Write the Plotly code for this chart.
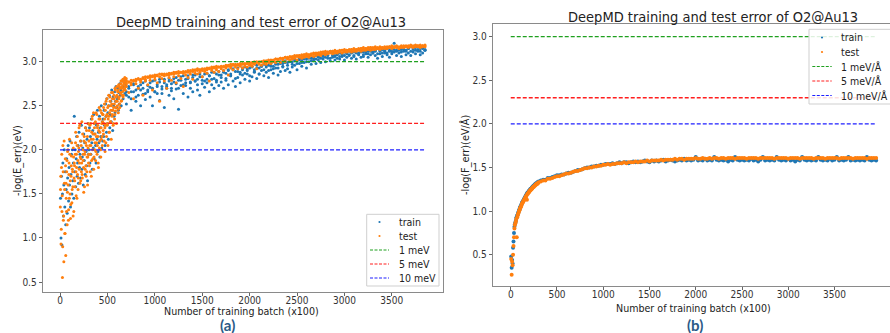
import plotly.graph_objects as go

W, H = 890, 333
BLUE = "#1f77b4"
ORANGE = "#ff7f0e"
FONT = "DejaVu Sans Condensed, Liberation Sans Narrow, DejaVu Sans, sans-serif"

# ---------------- panel (a): energy error, -log10(E_err) ----------------
batch_a_early = list(range(5, 700, 5))          # training batch (x100)
batch_a_early2 = list(range(3, 700, 5))
batch_a_late = list(range(700, 3851, 25))

train_a_early = [
    1.45, 1.00, 1.70, 0.92, 1.50, 1.85, 1.25, 1.60, 2.00, 1.35, 1.75, 1.15,
    1.55, 1.90, 1.28, 1.68, 2.05, 1.42, 1.80, 1.60, 2.10, 1.35, 1.72, 1.95, 1.50, 2.00, 1.65, 1.85, 1.45, 2.38,
    1.75, 2.00, 1.58, 1.90, 2.15, 1.70, 1.85, 2.05, 1.62, 2.20, 1.80, 1.95, 1.68, 2.10, 2.28,
    1.78, 1.92, 2.02, 1.60, 2.18, 1.88, 2.08, 1.72, 2.25, 1.98, 1.82, 2.12, 1.65, 2.30, 1.95,
    2.00, 2.25, 1.85, 2.15, 1.95, 2.35, 2.08, 1.78, 2.22, 2.02, 2.40, 1.90, 2.18, 2.30, 2.05,
    1.85, 2.28, 2.12, 2.45, 1.98, 2.20, 2.08, 2.38, 1.92, 2.25, 2.15, 2.50, 2.02, 2.32, 2.10,
    2.35, 2.15, 2.45, 2.28, 2.05, 2.52, 2.38, 2.20, 2.58, 2.30, 2.42, 2.12, 2.50, 2.62, 2.25,
    2.40, 2.55, 2.32, 2.68, 2.45, 2.22, 2.60, 2.50, 2.38, 2.66, 2.42, 2.55, 2.72, 2.48, 2.60,
    2.58, 2.70, 2.45, 2.65, 2.52, 2.75, 2.62, 2.68, 2.50, 2.78, 2.66, 2.72, 2.58, 2.80, 2.70,
    2.76, 2.64, 2.80, 2.74,
]
test_a_early = [
    1.55, 0.93, 1.80, 1.30, 0.55, 2.05, 1.20, 0.73, 1.62, 1.05, 1.90, 0.80,
    1.45, 1.75, 1.15, 1.98, 1.60, 1.32, 1.85, 2.12, 1.50, 1.22, 1.70, 1.93, 1.40, 1.78, 1.58, 2.02, 1.30, 1.85,
    1.65, 1.95, 2.20, 1.48, 1.80, 2.05, 1.72, 1.55, 1.98, 2.25, 1.85, 1.62, 2.10, 1.90, 1.75,
    2.32, 1.68, 2.00, 1.88, 1.52, 2.15, 1.95, 1.78, 2.08, 1.70, 2.22, 1.92, 1.60, 2.02, 1.85,
    2.10, 1.82, 2.28, 1.95, 2.05, 1.70, 2.20, 2.38, 1.90, 2.12, 1.78, 2.30, 2.00, 2.18, 1.88,
    2.42, 2.08, 1.95, 2.25, 2.15, 1.80, 2.35, 2.02, 2.20, 2.45, 1.92, 2.12, 2.30, 2.05, 2.40,
    2.22, 2.48, 2.10, 2.35, 1.98, 2.28, 2.55, 2.15, 2.40, 2.30, 2.05, 2.50, 2.38, 2.20, 2.60,
    2.32, 2.45, 2.12, 2.52, 2.40, 2.65, 2.28, 2.48, 2.58, 2.35, 2.70, 2.44, 2.55, 2.30, 2.62,
    2.50, 2.68, 2.42, 2.58, 2.72, 2.48, 2.65, 2.75, 2.55, 2.70, 2.62, 2.78, 2.60, 2.74, 2.68,
    2.80, 2.72, 2.76, 2.79,
]
test_a_early2 = [
    1.35, 1.70, 1.10, 1.95, 1.48, 0.90, 1.75, 1.25, 2.10, 1.55, 1.05, 1.82,
    1.62, 1.30, 1.88, 1.52, 2.00, 1.20, 1.72, 1.45, 1.95, 1.65, 1.38, 1.82, 2.08, 1.55, 1.75, 1.25, 1.92, 1.68,
    1.82, 1.58, 2.08, 1.75, 1.95, 1.45, 2.15, 1.88, 1.68, 2.02, 1.78, 2.28, 1.92, 1.65, 2.05,
    1.85, 1.72, 2.18, 1.95, 1.80, 2.10, 1.58, 1.98, 2.25, 1.82, 2.05, 1.75, 2.15, 1.92, 2.30,
    1.95, 2.22, 2.05, 1.75, 2.30, 2.12, 1.88, 2.35, 2.00, 2.18, 2.42, 1.92, 2.25, 2.08, 2.32,
    1.98, 2.15, 2.40, 2.05, 2.28, 1.85, 2.22, 2.48, 2.10, 2.35, 2.00, 2.25, 2.42, 2.15, 2.32,
    2.40, 2.18, 2.30, 2.52, 2.25, 2.45, 2.08, 2.38, 2.58, 2.28, 2.48, 2.35, 2.62, 2.20, 2.42,
    2.55, 2.32, 2.50, 2.65, 2.38, 2.58, 2.45, 2.30, 2.62, 2.52, 2.40, 2.68, 2.48, 2.60, 2.72,
    2.55, 2.66, 2.46, 2.74, 2.60, 2.52, 2.70, 2.64, 2.78, 2.56, 2.72, 2.66, 2.80, 2.62, 2.76,
    2.70, 2.82, 2.68, 2.78, 2.81,
]
test_a_late_upper = [
    2.78, 2.77, 2.79, 2.78, 2.80, 2.81, 2.80, 2.82, 2.83, 2.82,
    2.84, 2.83, 2.85, 2.84, 2.86, 2.85, 2.86, 2.85, 2.87, 2.86,
    2.88, 2.87, 2.89, 2.88, 2.89, 2.88, 2.90, 2.89, 2.91, 2.90,
    2.92, 2.91, 2.92, 2.91, 2.93, 2.92, 2.94, 2.93, 2.95, 2.94,
    2.95, 2.94, 2.96, 2.95, 2.97, 2.96, 2.97, 2.96, 2.98, 2.97,
    2.98, 2.98, 2.99, 2.98, 3.00, 2.99, 3.00, 3.00, 3.01, 3.00,
    3.02, 3.01, 3.02, 3.03, 3.03, 3.04, 3.04, 3.05, 3.05, 3.06,
    3.06, 3.07, 3.07, 3.07, 3.08, 3.08, 3.09, 3.08, 3.09, 3.10,
    3.10, 3.10, 3.11, 3.11, 3.12, 3.11, 3.12, 3.12, 3.13, 3.12,
    3.13, 3.13, 3.14, 3.13, 3.14, 3.14, 3.15, 3.14, 3.15, 3.15,
    3.16, 3.15, 3.16, 3.16, 3.16, 3.17, 3.16, 3.17, 3.16, 3.17,
    3.17, 3.17, 3.18, 3.17, 3.18, 3.17, 3.18, 3.18, 3.17, 3.18,
    3.19, 3.18, 3.19, 3.18, 3.19, 3.18, 3.19,
]
test_a_late_mid = [
    2.75, 2.77, 2.76, 2.79, 2.78, 2.80, 2.79, 2.81, 2.80, 2.83,
    2.82, 2.84, 2.83, 2.85, 2.83, 2.86, 2.84, 2.86, 2.85, 2.87,
    2.86, 2.88, 2.87, 2.88, 2.87, 2.89, 2.88, 2.90, 2.89, 2.91,
    2.90, 2.91, 2.90, 2.92, 2.91, 2.93, 2.92, 2.94, 2.93, 2.94,
    2.94, 2.95, 2.94, 2.96, 2.95, 2.97, 2.96, 2.97, 2.96, 2.98,
    2.97, 2.98, 2.97, 2.99, 2.98, 3.00, 2.99, 3.00, 3.00, 3.01,
    3.00, 3.02, 3.01, 3.03, 3.02, 3.04, 3.03, 3.05, 3.04, 3.05,
    3.05, 3.06, 3.06, 3.07, 3.06, 3.08, 3.07, 3.08, 3.08, 3.09,
    3.09, 3.10, 3.09, 3.11, 3.10, 3.11, 3.11, 3.12, 3.11, 3.12,
    3.12, 3.13, 3.12, 3.13, 3.13, 3.14, 3.13, 3.14, 3.14, 3.15,
    3.14, 3.15, 3.15, 3.16, 3.15, 3.16, 3.15, 3.16, 3.16, 3.16,
    3.16, 3.17, 3.16, 3.17, 3.17, 3.16, 3.17, 3.17, 3.18, 3.17,
    3.18, 3.17, 3.18, 3.18, 3.17, 3.18, 3.18,
]
test_a_late_lower = [
    2.72, 2.65, 2.74, 2.58, 2.75, 2.70, 2.77, 2.62, 2.78, 2.74,
    2.79, 2.68, 2.80, 2.76, 2.55, 2.81, 2.78, 2.70, 2.82, 2.79,
    2.83, 2.76, 2.84, 2.81, 2.72, 2.85, 2.82, 2.86, 2.80, 2.87,
    2.86, 2.88, 2.83, 2.89, 2.87, 2.78, 2.90, 2.88, 2.91, 2.89,
    2.92, 2.90, 2.93, 2.85, 2.93, 2.91, 2.94, 2.92, 2.95, 2.93,
    2.95, 2.94, 2.96, 2.95, 2.97, 2.92, 2.97, 2.96, 2.98, 2.97,
    2.99, 2.98, 3.00, 2.99, 3.01, 2.99, 3.02, 3.00, 3.03, 3.02,
    3.03, 3.04, 3.02, 3.05, 3.04, 3.05, 3.06, 3.05, 3.07, 3.06,
    3.07, 3.08, 3.07, 3.09, 3.08, 3.09, 3.10, 3.09, 3.10, 3.10,
    3.11, 3.10, 3.11, 3.11, 3.12, 3.11, 3.12, 3.12, 3.13, 3.12,
    3.13, 3.13, 3.14, 3.13, 3.14, 3.14, 3.15, 3.14, 3.15, 3.15,
    3.15, 3.16, 3.15, 3.16, 3.16, 3.15, 3.16, 3.16, 3.17, 3.16,
    3.17, 3.16, 3.17, 3.17, 3.16, 3.17, 3.17,
]
train_a_late_upper = [
    2.66, 2.72, 2.58, 2.75, 2.68, 2.62, 2.74, 2.70, 2.78, 2.66,
    2.76, 2.70, 2.79, 2.64, 2.77, 2.72, 2.80, 2.74, 2.78, 2.70,
    2.81, 2.75, 2.79, 2.83, 2.74, 2.80, 2.84, 2.77, 2.82, 2.85,
    2.80, 2.86, 2.83, 2.78, 2.87, 2.84, 2.88, 2.81, 2.86, 2.89,
    2.85, 2.90, 2.87, 2.91, 2.86, 2.92, 2.89, 2.93, 2.88, 2.91,
    2.94, 2.90, 2.93, 2.95, 2.91, 2.96, 2.93, 2.95, 2.97, 2.94,
    2.96, 2.98, 2.95, 2.99, 2.97, 3.00, 2.98, 3.01, 2.99, 3.02,
    3.00, 3.03, 3.01, 3.04, 3.02, 3.05, 3.03, 3.06, 3.04, 3.05,
    3.07, 3.05, 3.08, 3.06, 3.09, 3.07, 3.12, 3.10, 3.07, 3.09,
    3.10, 3.08, 3.11, 3.09, 3.12, 3.10, 3.11, 3.13, 3.10, 3.12,
    3.11, 3.13, 3.12, 3.14, 3.11, 3.13, 3.15, 3.12, 3.14, 3.13,
    3.15, 3.12, 3.14, 3.21, 3.13, 3.15, 3.14, 3.16, 3.13, 3.15,
    3.17, 3.14, 3.16, 3.13, 3.15, 3.17, 3.14,
]
train_a_late_mid = [
    2.62, 2.70, 2.66, 2.74, 2.60, 2.72, 2.68, 2.76, 2.64, 2.73,
    2.71, 2.78, 2.66, 2.74, 2.80, 2.69, 2.76, 2.72, 2.81, 2.67,
    2.77, 2.82, 2.70, 2.79, 2.84, 2.73, 2.81, 2.76, 2.85, 2.78,
    2.74, 2.83, 2.79, 2.86, 2.76, 2.84, 2.80, 2.88, 2.77, 2.85,
    2.82, 2.88, 2.79, 2.90, 2.84, 2.91, 2.81, 2.89, 2.86, 2.93,
    2.87, 2.92, 2.84, 2.94, 2.89, 2.93, 2.86, 2.95, 2.91, 2.96,
    2.90, 2.95, 2.92, 2.97, 2.93, 2.98, 2.94, 2.99, 2.96, 3.00,
    2.97, 3.01, 2.98, 3.02, 2.99, 3.03, 3.00, 3.04, 3.01, 3.03,
    3.03, 3.06, 3.04, 3.07, 3.05, 3.08, 3.04, 3.07, 3.06, 3.08,
    3.06, 3.09, 3.07, 3.10, 3.08, 3.11, 3.07, 3.10, 3.09, 3.11,
    3.08, 3.11, 3.09, 3.12, 3.10, 3.12, 3.09, 3.13, 3.10, 3.12,
    3.10, 3.13, 3.11, 3.14, 3.12, 3.13, 3.11, 3.14, 3.12, 3.15,
    3.12, 3.15, 3.13, 3.14, 3.12, 3.15, 3.13,
]
train_a_late_lower = [
    2.52, 2.60, 2.45, 2.66, 2.55, 2.70, 2.50, 2.63, 2.57, 2.68,
    2.60, 2.50, 2.66, 2.72, 2.56, 2.64, 2.48, 2.70, 2.62, 2.75,
    2.58, 2.69, 2.46, 2.73, 2.64, 2.76, 2.60, 2.70, 2.66, 2.78,
    2.68, 2.62, 2.75, 2.71, 2.80, 2.66, 2.74, 2.70, 2.79, 2.73,
    2.77, 2.70, 2.81, 2.74, 2.84, 2.78, 2.72, 2.82, 2.76, 2.85,
    2.80, 2.86, 2.78, 2.83, 2.88, 2.81, 2.86, 2.90, 2.84, 2.88,
    2.82, 2.91, 2.87, 2.93, 2.85, 2.89, 2.95, 2.90, 2.92, 2.88,
    2.94, 2.96, 2.91, 2.98, 2.95, 2.99, 2.93, 3.00, 2.97, 3.01,
    2.98, 3.02, 2.99, 3.03, 3.00, 3.04, 3.01, 3.05, 3.02, 3.04,
    3.03, 3.06, 3.02, 3.05, 3.07, 3.04, 3.06, 3.03, 3.08, 3.05,
    3.06, 3.09, 3.05, 3.08, 3.10, 3.07, 3.04, 3.09, 3.06, 3.10,
    3.08, 3.05, 3.09, 3.11, 3.07, 3.10, 3.06, 3.12, 3.08, 3.10,
    3.07, 3.11, 3.09, 3.12, 3.08, 3.10, 3.13,
]

# ---------------- panel (b): force error, -log10(F_err) ----------------
batch_b_early = list(range(5, 300, 5))
batch_b_late = list(range(300, 3951, 25))

train_b_early = [
    0.48, 0.35, 0.44, 0.40, 0.58, 0.65, 0.75, 0.82, 0.85, 0.87,
    0.89, 0.92, 0.93, 0.95, 0.96, 0.98, 0.99, 1.01, 1.02, 1.04,
    1.05, 1.06, 1.07, 1.09, 1.10, 1.11, 1.12, 1.13, 1.14, 1.15,
    1.16, 1.17, 1.18, 1.19, 1.20, 1.21, 1.21, 1.22, 1.23, 1.23,
    1.24, 1.25, 1.25, 1.26, 1.26, 1.27, 1.28, 1.28, 1.29, 1.29,
    1.30, 1.30, 1.31, 1.31, 1.32, 1.32, 1.32, 1.33, 1.33,
]
test_b_early = [
    0.45, 0.27, 0.42, 0.38, 0.50, 0.60, 0.70, 0.80, 0.84, 0.86,
    0.88, 0.91, 0.70, 0.93, 0.95, 0.97, 0.98, 1.00, 1.01, 1.03,
    1.04, 1.05, 1.06, 1.08, 1.09, 1.10, 1.11, 1.12, 1.13, 1.14,
    1.15, 1.16, 1.17, 1.18, 1.13, 1.20, 1.20, 1.21, 1.22, 1.22,
    1.23, 1.24, 1.24, 1.25, 1.25, 1.26, 1.27, 1.27, 1.28, 1.28,
    1.29, 1.29, 1.30, 1.30, 1.31, 1.31, 1.31, 1.32, 1.32,
]
train_b_late = [
    1.34, 1.35, 1.36, 1.36, 1.38, 1.38, 1.39, 1.40, 1.41, 1.41,
    1.42, 1.42, 1.43, 1.44, 1.44, 1.45, 1.46, 1.47, 1.47, 1.48,
    1.49, 1.50, 1.50, 1.51, 1.51, 1.52, 1.52, 1.53, 1.53, 1.54,
    1.54, 1.54, 1.55, 1.54, 1.55, 1.56, 1.55, 1.56, 1.56, 1.55,
    1.56, 1.57, 1.56, 1.57, 1.56, 1.57, 1.58, 1.57, 1.56, 1.58,
    1.57, 1.58, 1.57, 1.58, 1.59, 1.57, 1.58, 1.59, 1.58, 1.57,
    1.58, 1.59, 1.58, 1.60, 1.58, 1.59, 1.58, 1.59, 1.62, 1.58,
    1.59, 1.58, 1.60, 1.58, 1.59, 1.58, 1.62, 1.59, 1.58, 1.59,
    1.58, 1.59, 1.57, 1.59, 1.58, 1.62, 1.59, 1.58, 1.59, 1.58,
    1.59, 1.58, 1.60, 1.58, 1.59, 1.57, 1.59, 1.62, 1.58, 1.59,
    1.58, 1.59, 1.58, 1.62, 1.59, 1.58, 1.59, 1.58, 1.60, 1.58,
    1.59, 1.57, 1.59, 1.58, 1.62, 1.59, 1.58, 1.59, 1.58, 1.59,
    1.58, 1.62, 1.59, 1.58, 1.59, 1.58, 1.60, 1.58, 1.59, 1.62,
    1.58, 1.59, 1.58, 1.59, 1.62, 1.58, 1.59, 1.58, 1.59, 1.58,
    1.59, 1.58, 1.62, 1.59, 1.58, 1.59, 1.58,
]
test_b_late = [
    1.33, 1.34, 1.35, 1.35, 1.37, 1.37, 1.38, 1.39, 1.40, 1.40,
    1.41, 1.42, 1.43, 1.43, 1.44, 1.45, 1.46, 1.46, 1.47, 1.48,
    1.49, 1.49, 1.50, 1.50, 1.51, 1.51, 1.52, 1.52, 1.53, 1.53,
    1.54, 1.53, 1.54, 1.54, 1.55, 1.55, 1.55, 1.56, 1.55, 1.56,
    1.56, 1.56, 1.57, 1.56, 1.57, 1.57, 1.57, 1.58, 1.57, 1.58,
    1.58, 1.58, 1.58, 1.59, 1.58, 1.59, 1.59, 1.59, 1.59, 1.60,
    1.59, 1.60, 1.60, 1.59, 1.60, 1.60, 1.60, 1.60, 1.61, 1.60,
    1.60, 1.61, 1.60, 1.60, 1.61, 1.60, 1.61, 1.61, 1.60, 1.61,
    1.61, 1.60, 1.61, 1.61, 1.61, 1.60, 1.61, 1.61, 1.61, 1.61,
    1.60, 1.61, 1.61, 1.61, 1.61, 1.60, 1.61, 1.61, 1.61, 1.61,
    1.61, 1.61, 1.60, 1.61, 1.61, 1.61, 1.61, 1.61, 1.60, 1.61,
    1.61, 1.61, 1.61, 1.60, 1.61, 1.61, 1.61, 1.61, 1.61, 1.60,
    1.61, 1.61, 1.61, 1.61, 1.60, 1.61, 1.61, 1.61, 1.61, 1.61,
    1.60, 1.61, 1.61, 1.61, 1.61, 1.61, 1.60, 1.61, 1.61, 1.61,
    1.61, 1.61, 1.60, 1.61, 1.61, 1.61, 1.61,
]

# reference accuracy levels: -log10(1 meV), -log10(5 meV), -log10(10 meV)
ref_levels = [3.0, 2.3, 2.0]
ref_colors = ["#1fa01f", "#ff1f1f", "#1f1fff"]
energy_names = ["1 meV", "5 meV", "10 meV"]
force_names = ["1 meV/Å", "5 meV/Å", "10 meV/Å"]

xticks = [0, 500, 1000, 1500, 2000, 2500, 3000, 3500]
yticks = [0.5, 1.0, 1.5, 2.0, 2.5, 3.0]
title_text = "DeepMD training and test error of O2@Au13"
xlabel = "Number of training batch (x100)"

assert len(train_a_early) == len(batch_a_early) == len(test_a_early)
assert len(test_a_early2) == len(batch_a_early2), len(test_a_early2)
for s in (test_a_late_upper, test_a_late_mid, test_a_late_lower,
          train_a_late_upper, train_a_late_mid, train_a_late_lower):
    assert len(s) == len(batch_a_late), len(s)
assert len(train_b_early) == len(test_b_early) == len(batch_b_early)
assert len(train_b_late) == len(test_b_late) == len(batch_b_late)


def px(x):
    return x / W


def py(y):
    return 1 - y / H


fig = go.Figure()
MS = 3

# panel (a)
fig.add_trace(go.Scatter(
    x=batch_a_early + batch_a_late * 3,
    y=train_a_early + train_a_late_lower + train_a_late_mid + train_a_late_upper,
    mode="markers", marker=dict(size=MS, color=BLUE, line=dict(width=0)),
    name="train", xaxis="x", yaxis="y", showlegend=False))
fig.add_trace(go.Scatter(
    x=batch_a_early + batch_a_early2 + batch_a_late * 3,
    y=test_a_early + test_a_early2 + test_a_late_lower + test_a_late_mid + test_a_late_upper,
    mode="markers", marker=dict(size=MS, color=ORANGE, line=dict(width=0)),
    name="test", xaxis="x", yaxis="y", showlegend=False))
xmax_a = max(batch_a_late)
for lvl, col, nm in zip(ref_levels, ref_colors, energy_names):
    fig.add_trace(go.Scatter(x=[0, xmax_a], y=[lvl, lvl], mode="lines", name=nm,
                             line=dict(color=col, width=1.3, dash="4px,2px"),
                             xaxis="x", yaxis="y", showlegend=False))

# panel (b)
fig.add_trace(go.Scatter(
    x=batch_b_early + batch_b_late, y=train_b_early + train_b_late,
    mode="markers", marker=dict(size=4, color=BLUE, line=dict(width=0)),
    name="train", xaxis="x2", yaxis="y2", showlegend=False))
fig.add_trace(go.Scatter(
    x=batch_b_early + batch_b_late, y=test_b_early + test_b_late,
    mode="markers", marker=dict(size=4, color=ORANGE, line=dict(width=0)),
    name="test", xaxis="x2", yaxis="y2", showlegend=False))
xmax_b = max(batch_b_late)
for lvl, col, nm in zip(ref_levels, ref_colors, force_names):
    fig.add_trace(go.Scatter(x=[0, xmax_b], y=[lvl, lvl], mode="lines", name=nm,
                             line=dict(color=col, width=1.3, dash="4px,2px"),
                             xaxis="x2", yaxis="y2", showlegend=False))

AX = dict(showgrid=False, zeroline=False, showline=True, linecolor="#8a8a8a", linewidth=1,
          ticks="outside", ticklen=3, tickwidth=1, tickcolor="#666",
          tickfont=dict(family=FONT, size=10, color="#333"))

fig.update_layout(
    width=W, height=H, margin=dict(l=0, r=0, t=0, b=0),
    paper_bgcolor="white", plot_bgcolor="white", showlegend=False,
    xaxis=dict(AX, domain=[px(42.7), px(443)], range=[-183, 4040], anchor="y",
               tickvals=xticks, mirror=True, ticklabelstandoff=-4),
    yaxis=dict(AX, domain=[py(291.7), py(30)], range=[0.39, 3.36], anchor="x",
               tickvals=yticks, ticktext=[f"{v:.1f}" for v in yticks], mirror=True),
    xaxis2=dict(AX, domain=[px(492.7), 1.0], range=[-195, 4100], anchor="y2",
                tickvals=xticks, mirror=True, ticklabelstandoff=-4),
    yaxis2=dict(AX, domain=[py(286), py(24.3)], range=[0.141, 3.142], anchor="x2",
                tickvals=yticks, ticktext=[f"{v:.1f}" for v in yticks]),
)

ann = []
shapes = []


def text(x, y, s, size, color="#222", xanchor="center", angle=0, bold=False, family=FONT):
    ann.append(dict(x=px(x), y=py(y), xref="paper", yref="paper", text=s, showarrow=False,
                    xanchor=xanchor, yanchor="middle", textangle=angle,
                    font=dict(family=family, size=size, color=color,
                              weight="bold" if bold else "normal")))


# titles, axis labels, panel tags
text(260.8, 22, title_text, 14.5)
text(712.5, 17, title_text, 14.5)
text(242, 311, xlabel, 10.6)
text(693.3, 307.5, xlabel, 10.6)
text(17, 161, "-log(E_err)(eV)", 10.8, angle=-90)
text(465, 155, "-log(F_err)(eV/Å)", 10.8, angle=-90)
text(227, 325, "(a)", 15, color="#2b5a87", bold=True, family="Lato, Open Sans, sans-serif")
text(694.5, 325, "(b)", 15, color="#2b5a87", bold=True, family="Lato, Open Sans, sans-serif")


def manual_legend(box, rows, line_x0, line_x1, text_x, names):
    x0, y0, x1, y1 = box
    shapes.append(dict(type="rect", xref="paper", yref="paper", x0=px(x0), x1=px(x1),
                       y0=py(y1), y1=py(y0), line=dict(color="#cfcfcf", width=1),
                       fillcolor="rgba(255,255,255,0.85)", layer="above"))
    mx = (line_x0 + line_x1) / 2
    for i, (yy, nm) in enumerate(zip(rows, names)):
        if i < 2:
            col = BLUE if i == 0 else ORANGE
            shapes.append(dict(type="circle", xref="paper", yref="paper",
                               x0=px(mx - 1.1), x1=px(mx + 1.1), y0=py(yy + 1.1), y1=py(yy - 1.1),
                               fillcolor=col, line=dict(width=0), layer="above"))
        else:
            col = ref_colors[i - 2]
            shapes.append(dict(type="line", xref="paper", yref="paper",
                               x0=px(line_x0), x1=px(line_x1), y0=py(yy), y1=py(yy),
                               line=dict(color=col, width=1, dash="3px,1.5px"), layer="above"))
        text(text_x, yy, nm, 10.5, xanchor="left")


manual_legend((366.7, 214.3, 439, 286), [222, 236, 250, 264, 278], 370, 389, 397.3,
              ["train", "test"] + energy_names)
manual_legend((809, 29.3, 900, 104), [37.5, 52, 66.5, 81, 95.5], 812.3, 831.7, 839.3,
              ["train", "test"] + force_names)

fig.update_layout(annotations=ann, shapes=shapes)
fig.write_html("out.html")
